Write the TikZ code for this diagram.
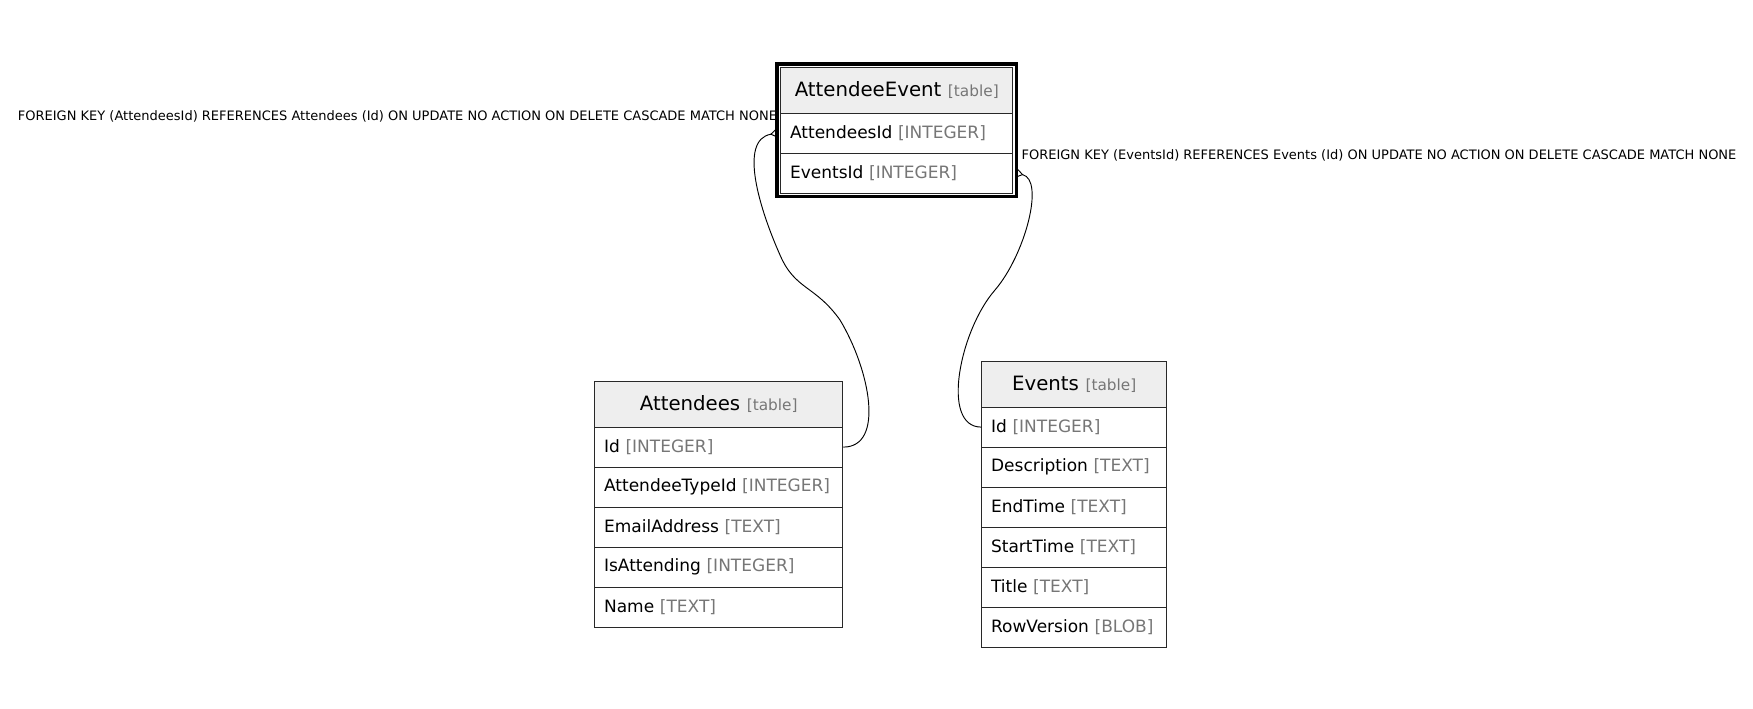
\documentclass[tikz,border=0pt]{standalone}
\usepackage{fontspec}
\setmainfont{DejaVu Sans}
\usepackage{tikz}
\usetikzlibrary{matrix,positioning,calc,arrows.meta}
\definecolor{headgray}{RGB}{238,238,238}
\definecolor{typegray}{RGB}{118,118,118}
\definecolor{rulegray}{RGB}{40,40,40}
\newcommand{\coltype}[1]{{\color{typegray}[#1]}}

\begin{document}
\begin{tikzpicture}[
    x=0.75pt, y=-0.75pt,
    cell/.style={draw=rulegray, line width=0.75pt, inner xsep=7pt, inner ysep=0pt,
        text width=#1, minimum height=30pt, align=left,
        font=\fontsize{12.75}{15}\selectfont},
    head/.style={fill=headgray, align=center, minimum height=34pt,
        font=\fontsize{14.8}{18}\selectfont},
    tbl/.style={matrix of nodes, inner sep=0pt, row sep=-0.75pt, anchor=north west,
        row 1/.style={nodes=head}},
    fklabel/.style={inner sep=0pt, font=\fontsize{9.75}{11}\selectfont},
    fk/.style={line width=0.7pt, -{Straight Barb[reversed, length=4.5pt, width=6pt]}}
]

\fill[white] (0,0) rectangle (1753,709);
\useasboundingbox (0,0) rectangle (1753,709);

% Join table
\matrix (ae) [tbl, nodes={cell=160pt}] at (780,67) {
    AttendeeEvent {\fontsize{11.5}{14}\selectfont\coltype{table}} \\
    AttendeesId \coltype{INTEGER} \\
    EventsId \coltype{INTEGER} \\
};
\draw[black, line width=2.3pt] ([shift={(-3,-3)}]ae.north west) rectangle ([shift={(3,3)}]ae.south east);

% Attendees table
\matrix (att) [tbl, nodes={cell=172pt}] at (594,381) {
    Attendees {\fontsize{11.5}{14}\selectfont\coltype{table}} \\
    Id \coltype{INTEGER} \\
    AttendeeTypeId \coltype{INTEGER} \\
    EmailAddress \coltype{TEXT} \\
    IsAttending \coltype{INTEGER} \\
    Name \coltype{TEXT} \\
};

% Events table
\matrix (ev) [tbl, nodes={cell=124.75pt}] at (981,361) {
    Events {\fontsize{11.5}{14}\selectfont\coltype{table}} \\
    Id \coltype{INTEGER} \\
    Description \coltype{TEXT} \\
    EndTime \coltype{TEXT} \\
    StartTime \coltype{TEXT} \\
    Title \coltype{TEXT} \\
    RowVersion \coltype{BLOB} \\
};

% Foreign key labels
\node[fklabel, anchor=east] (fkatt) at ([xshift=-2.25pt, yshift=-3pt]ae-2-1.north west)
    {FOREIGN KEY (AttendeesId) REFERENCES Attendees (Id) ON UPDATE NO ACTION ON DELETE CASCADE MATCH NONE};
\node[fklabel, anchor=west] (fkev) at ([xshift=6pt, yshift=-2pt]ae-3-1.north east)
    {FOREIGN KEY (EventsId) REFERENCES Events (Id) ON UPDATE NO ACTION ON DELETE CASCADE MATCH NONE};

% Foreign key connectors
\draw[fk] (att-2-1.east) .. controls (885,447) and (870,370) .. (840,320)
    .. controls (815,285) and (795,290) .. (780,255)
    .. controls (760,210) and (738,140) .. ([xshift=-2.25pt]ae-2-1.west);
\draw[fk] (ev-2-1.west) .. controls (940,427) and (960,330) .. (995,290)
    .. controls (1025,255) and (1045,180) .. ([xshift=2.25pt]ae-3-1.east);

\end{tikzpicture}
\end{document}
